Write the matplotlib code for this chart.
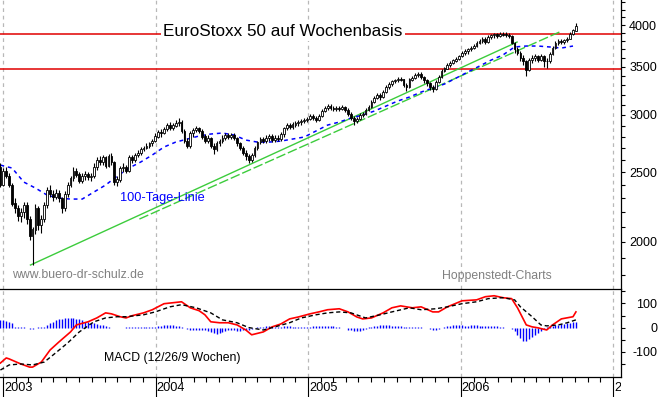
import numpy as np
import pandas as pd
import matplotlib
matplotlib.use('Agg')
import matplotlib.pyplot as plt
import matplotlib.dates as mdates
from matplotlib.ticker import NullFormatter
from matplotlib.transforms import Bbox, blended_transform_factory

plt.rcParams['font.family'] = ['Liberation Sans', 'DejaVu Sans']

# weekly candles, first candle = week of 25 Dec 2002
first_open = 2540
closes = [2400, 2510, 2470, 2400, 2260, 2230, 2170, 2200, 2250, 2150,
          2040, 2080, 2230, 2110, 2150, 2250, 2360, 2330, 2310, 2340,
          2300, 2230, 2330, 2400, 2450, 2510, 2480, 2430, 2470, 2480,
          2460, 2470, 2540, 2600, 2580, 2620, 2550, 2630, 2580, 2420,
          2440, 2530, 2540, 2510, 2620, 2600, 2640, 2660, 2690, 2700,
          2720, 2740, 2760, 2800, 2840, 2830, 2870, 2900, 2880, 2900,
          2920, 2930, 2850, 2760, 2720, 2830, 2860, 2880, 2850, 2800,
          2760, 2790, 2720, 2690, 2740, 2760, 2790, 2810, 2800, 2810,
          2790, 2740, 2700, 2660, 2630, 2600, 2640, 2700, 2750, 2780,
          2760, 2790, 2800, 2770, 2790, 2780, 2820, 2880, 2900, 2890,
          2910, 2920, 2930, 2940, 2950, 2960, 2990, 2970, 2950, 2990,
          3040, 3070, 3090, 3070, 3060, 3070, 3060, 3080, 3050, 3010,
          2970, 2940, 2960, 3000, 3010, 3050, 3080, 3130, 3170, 3200,
          3180, 3230, 3280, 3310, 3340, 3350, 3370, 3360, 3300, 3280,
          3360, 3380, 3410, 3420, 3390, 3350, 3320, 3280, 3260, 3330,
          3390, 3450, 3480, 3520, 3540, 3570, 3590, 3620, 3660, 3680,
          3700, 3720, 3740, 3780, 3800, 3830, 3790, 3850, 3870, 3880,
          3860, 3890, 3880, 3870, 3860, 3780, 3700, 3660, 3600, 3560,
          3460, 3580, 3600, 3620, 3580, 3620, 3560, 3560, 3650, 3720,
          3780, 3800, 3790, 3810, 3830, 3890, 3930, 3990]
highs = [2570, 2530, 2540, 2490, 2410, 2300, 2250, 2230, 2270, 2270,
         2170, 2100, 2260, 2240, 2180, 2270, 2380, 2400, 2360, 2370,
         2360, 2310, 2350, 2420, 2470, 2540, 2530, 2500, 2490, 2510,
         2500, 2490, 2570, 2620, 2630, 2640, 2630, 2650, 2660, 2590,
         2470, 2550, 2570, 2560, 2640, 2640, 2660, 2680, 2710, 2720,
         2740, 2750, 2780, 2830, 2860, 2870, 2890, 2920, 2930, 2920,
         2950, 2970, 2950, 2870, 2790, 2850, 2880, 2900, 2890, 2870,
         2820, 2810, 2800, 2740, 2760, 2780, 2810, 2830, 2830, 2830,
         2830, 2800, 2750, 2720, 2680, 2650, 2660, 2720, 2760, 2800,
         2800, 2810, 2820, 2820, 2810, 2810, 2840, 2890, 2920, 2920,
         2930, 2940, 2950, 2960, 2970, 2980, 3010, 3010, 2990, 3010,
         3060, 3090, 3110, 3110, 3090, 3090, 3090, 3100, 3090, 3070,
         3030, 2990, 2980, 3020, 3030, 3070, 3100, 3150, 3190, 3220,
         3220, 3250, 3300, 3330, 3360, 3370, 3390, 3390, 3370, 3320,
         3380, 3400, 3430, 3440, 3440, 3400, 3370, 3330, 3300, 3350,
         3410, 3470, 3500, 3540, 3560, 3590, 3610, 3640, 3680, 3700,
         3720, 3740, 3760, 3800, 3820, 3850, 3850, 3870, 3890, 3900,
         3900, 3910, 3910, 3910, 3900, 3880, 3790, 3730, 3680, 3630,
         3580, 3600, 3630, 3650, 3640, 3650, 3630, 3600, 3670, 3740,
         3800, 3820, 3830, 3830, 3850, 3910, 3950, 4030]
lows = [2380, 2390, 2450, 2380, 2240, 2190, 2140, 2130, 2160, 2120,
        2010, 1856, 2050, 2080, 2060, 2130, 2230, 2310, 2280, 2290,
        2270, 2190, 2210, 2310, 2380, 2430, 2460, 2410, 2410, 2440,
        2440, 2430, 2450, 2520, 2560, 2560, 2530, 2540, 2560, 2400,
        2390, 2420, 2500, 2490, 2500, 2570, 2580, 2620, 2640, 2670,
        2690, 2700, 2720, 2750, 2790, 2800, 2820, 2850, 2860, 2860,
        2890, 2900, 2830, 2740, 2700, 2700, 2800, 2840, 2830, 2780,
        2740, 2740, 2700, 2650, 2670, 2720, 2740, 2770, 2780, 2780,
        2770, 2720, 2680, 2640, 2600, 2570, 2580, 2620, 2680, 2730,
        2740, 2740, 2760, 2750, 2750, 2760, 2760, 2800, 2860, 2870,
        2870, 2890, 2900, 2910, 2920, 2930, 2950, 2950, 2930, 2940,
        2980, 3030, 3050, 3050, 3040, 3040, 3040, 3050, 3030, 2990,
        2950, 2910, 2920, 2950, 2980, 3000, 3040, 3070, 3120, 3160,
        3150, 3170, 3220, 3260, 3290, 3320, 3330, 3340, 3280, 3240,
        3270, 3340, 3370, 3390, 3370, 3320, 3290, 3250, 3230, 3250,
        3320, 3380, 3440, 3470, 3500, 3530, 3550, 3580, 3610, 3640,
        3650, 3680, 3700, 3730, 3760, 3780, 3760, 3780, 3830, 3840,
        3840, 3850, 3860, 3850, 3840, 3760, 3660, 3630, 3570, 3520,
        3400, 3450, 3540, 3570, 3550, 3560, 3500, 3490, 3540, 3640,
        3700, 3750, 3770, 3770, 3790, 3820, 3880, 3920]

# 100-Tage-Linie, read every 4th week
ma_weeks = list(range(0, 197, 4))
ma_vals = [2556, 2532, 2421, 2375, 2322, 2300, 2293, 2293, 2345, 2398,
           2468, 2532, 2581, 2640, 2708, 2751, 2778, 2805, 2823, 2832,
           2814, 2769, 2751, 2751, 2760, 2778, 2796, 2850, 2905, 2933,
           2971, 3000, 3038, 3087, 3137, 3177, 3228, 3270, 3312, 3376,
           3442, 3508, 3576, 3634, 3729, 3740, 3740, 3729, 3716, 3740]

# MACD (red) and signal (black dashed)
macd_weeks = [0, 2, 3, 7, 10, 11, 14, 17, 20, 24, 26, 30, 33, 36, 38, 41, 43, 45, 49, 52,
              56, 59, 62, 65, 68, 70, 72, 75, 78, 81, 84, 86, 90, 93, 96, 99, 102, 106, 109, 112,
              116, 119, 122, 124, 127, 131, 134, 137, 141, 144, 148, 150, 153, 158, 163, 166, 169, 172, 175, 177,
              180, 182, 184, 187, 189, 192, 196, 197]
macd_vals = [-147, -126, -130, -151, -164, -164, -143, -93, -60, -18, 11, 24, 40, 61, 57, 45, 40, 49, 61, 74,
             99, 103, 107, 82, 70, 53, 24, 20, 20, 11, -10, -30, -18, 3, 15, 36, 44, 57, 65, 74,
             78, 65, 44, 36, 40, 61, 82, 90, 82, 86, 65, 65, 86, 111, 115, 128, 132, 124, 120, 82,
             11, 3, -1, -10, 11, 36, 45, 65]
signal_weeks = [0, 3, 7, 11, 15, 18, 23, 27, 32, 36, 40, 43, 49, 53, 58, 62, 67, 72, 76, 81,
                85, 90, 94, 99, 103, 108, 112, 116, 120, 125, 130, 134, 140, 144, 149, 153, 158, 163, 167, 172,
                176, 178, 182, 185, 187, 191, 194, 197]
signal_vals = [-176, -155, -151, -155, -143, -114, -64, -18, 24, 40, 45, 45, 53, 65, 86, 95, 82, 61, 32, 20,
               0, -10, 3, 20, 40, 53, 61, 65, 61, 40, 53, 65, 82, 74, 78, 86, 99, 107, 120, 124,
               115, 86, 45, 11, 7, 11, 20, 32]
hist_vals = [30, 32, 28, 25, 18, 3, 2, 2, 1, 0, -5, -6, 0, 1, 2, 4,
             10, 18, 25, 30, 34, 36, 38, 40, 40, 38, 36, 34, 30, 25,
             22, 20, 18, 15, 12, 10, 6, 3, 0, 0, 0, 0, 0,
             2, 2, 2, 2, 2, 2, 2, 2, 2, 2, 2,
             5, 7, 9, 10, 12, 10, 8, 6, 3,
             -3, -6, -8, -10, -12, -10, -8,
             -12, -16, -20, -24, -25, -22, -18, -15, -12, -10,
             -12, -14, -15, -12, -10, -8, -5, -3,
             2, 3, 4, 5, 5, 4, 3, 3, 4, 5, 6, 5, 4, 3, 3, 2, 2, 3, 4, 5, 6, 6, 7, 8, 8,
             8, 6, 4, 2, 0, -3,
             -8, -12, -15, -16, -14, -10, -6,
             2, 4, 6, 8, 9, 10, 10, 9, 8, 7, 6, 5, 4, 3,
             2, 2, 2, 1, 1, 0, -2,
             -6, -8, -10, -7, -3,
             4, 6, 8, 9, 10, 10, 9, 8, 8, 9, 10, 9, 8, 7, 6, 6, 7, 6, 5, 4, 2,
             0, -3,
             -6, -15, -30, -45, -57, -55, -47, -38, -30, -22, -14, -6,
             3, 5, 8, 10, 12, 14, 16, 18, 20, 22, 24]

levels = [3475, 3890]
trend_upper = [('2003-03-07', 1857), ('2006-05-16', 3788)]
trend_lower = [('2003-11-23', 2151), ('2006-08-31', 3924)]
years = [2003, 2004, 2005, 2006, 2007]
price_ticks = [2000, 2500, 3000, 3500, 4000]
macd_ticks = [-100, 0, 100]

# ---------------------------------------------------------------
dates = pd.date_range('2002-12-25', periods=len(closes), freq='7D')
x = mdates.date2num(dates.to_pydatetime())
opens = [first_open] + closes[:-1]
o = np.array(opens, float)
c = np.array(closes, float)

W, H = 660, 397
fig = plt.figure(figsize=(W / 100, H / 100), dpi=100, facecolor='white')
ax1 = fig.add_axes([0, (H - 289) / H, 621 / W, 289 / H])
ax2 = fig.add_axes([0, (H - 377) / H, 621 / W, 88 / H], sharex=ax1)

xmin = mdates.date2num(pd.Timestamp('2002-12-24'))
xmax = mdates.date2num(pd.Timestamp('2007-01-20'))
ax1.set_xlim(xmin, xmax)

grid_kw = dict(color='#b8b8b8', lw=0.9, ls=(0, (3, 3)), zorder=0)
for yr in years:
    d = mdates.date2num(pd.Timestamp(f'{yr}-01-01'))
    ax1.axvline(d, **grid_kw)
    ax2.axvline(d, **grid_kw)

# main panel
ax1.set_yscale('log')
ax1.set_ylim(1720, 4333)
for lv in levels:
    ax1.axhline(lv, color='#e00000', lw=1.1, zorder=1)

for seg, ls in ((trend_upper, '-'), (trend_lower, (0, (7, 2)))):
    tx = [mdates.date2num(pd.Timestamp(p[0])) for p in seg]
    ty = [p[1] for p in seg]
    ax1.plot(tx, ty, color='#3ccc3c', lw=1.0, ls=ls, zorder=2)

ax1.plot(x[ma_weeks], ma_vals, color='#0000ff', lw=1.1, ls=(0, (2.5, 2.5)), zorder=2)

ax1.vlines(x, lows, highs, color='black', lw=0.8, zorder=3)
up = c >= o
ax1.bar(x, np.abs(c - o) + 1, bottom=np.minimum(o, c), width=4.3,
        color=np.where(up, 'white', 'black'), edgecolor='black', lw=0.6, zorder=4)

ax1.text(283 / 621, 1 - 31 / 289, 'EuroStoxx 50 auf Wochenbasis', transform=ax1.transAxes,
         ha='center', va='center', fontsize=12.3, zorder=6,
         bbox=dict(facecolor='white', edgecolor='none', pad=1.5))
ax1.text(120 / 621, 1 - 198 / 289, '100-Tage-Linie', transform=ax1.transAxes,
         ha='left', va='center', fontsize=9.2, color='#0000ff')
ax1.text(12 / 621, 1 - 275 / 289, 'www.buero-dr-schulz.de', transform=ax1.transAxes,
         ha='left', va='center', fontsize=8.8, color='#808080')
ax1.text(442 / 621, 1 - 276 / 289, 'Hoppenstedt-Charts', transform=ax1.transAxes,
         ha='left', va='center', fontsize=8.8, color='#808080')

# MACD panel
ax2.set_ylim(-205, 160)
ax2.vlines(x, 0, hist_vals, color='#0000ff', lw=1.0, zorder=2)
ax2.plot(x[macd_weeks], macd_vals, color='#ff0000', lw=1.2, zorder=3)
ax2.plot(x[signal_weeks], signal_vals, color='black', lw=1.0, ls=(0, (3, 2)), zorder=3)
ax2.text(104 / 621, 19 / 88, 'MACD (12/26/9 Wochen)', transform=ax2.transAxes,
         ha='left', va='center', fontsize=8.8)

# axes styling
for ax in (ax1, ax2):
    ax.set_facecolor('white')
    ax.spines['left'].set_visible(False)
    ax.yaxis.tick_right()
    for s in ax.spines.values():
        s.set_linewidth(0.9)
ax1.spines['top'].set_visible(False)
ax1.spines['bottom'].set_visible(False)
ax1.tick_params(axis='x', which='both', bottom=False, labelbottom=False)

ax1.set_yticks(price_ticks)
ax1.set_yticklabels([str(t) for t in price_ticks])
ax1.set_yticks([v for v in range(1800, 4400, 100) if v not in price_ticks], minor=True)
ax1.yaxis.set_minor_formatter(NullFormatter())
ax1.tick_params(axis='y', which='both', direction='out', length=3, width=0.8,
                labelsize=9, pad=23)

ax2.set_yticks(macd_ticks)
ax2.set_yticklabels([str(t) for t in macd_ticks])
ax2.set_yticks([-150, -50, 50, 150], minor=True)
ax2.tick_params(axis='y', which='both', direction='out', length=3, width=0.8,
                labelsize=9, pad=23)
for ax in (ax1, ax2):
    for lab in ax.get_yticklabels():
        lab.set_horizontalalignment('right')

year_x = [mdates.date2num(pd.Timestamp(f'{yr}-01-01')) for yr in years]
ax2.set_xticks(year_x)
ax2.xaxis.set_minor_locator(mdates.MonthLocator())
ax2.tick_params(axis='x', which='major', direction='out', length=14.5, width=0.8,
                labelbottom=False)
ax2.tick_params(axis='x', which='minor', direction='out', length=3.6, width=0.8)

trans = blended_transform_factory(ax2.transData, ax2.transAxes)
clip = Bbox([[0, 0], [621, H]])
for yr, xv in zip(years, year_x):
    t = ax2.text(xv + 2, -0.125, str(yr), transform=trans, ha='left', va='center',
                 fontsize=9.2, clip_on=True)
    t.set_clip_box(clip)

fig.savefig('out.png', dpi=100, facecolor='white')
